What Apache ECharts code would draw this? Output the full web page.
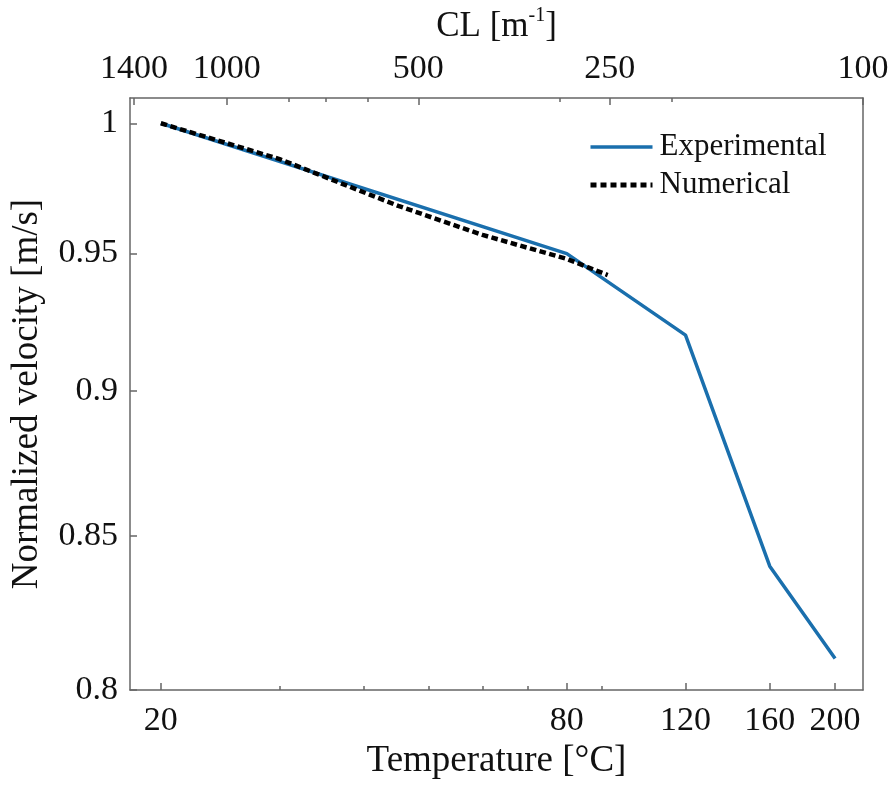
<!DOCTYPE html>
<html>
<head>
<meta charset="utf-8">
<script src="https://cdn.jsdelivr.net/npm/echarts@6/dist/echarts.min.js"></script>
<style>html,body{margin:0;padding:0;background:#fff;}#c{width:894px;height:785px;}</style>
</head>
<body>
<div id="c"></div>
<script>
// ---- data ----
const temperatureTicks = [20, 80, 120, 160, 200];
const temperatureMinorTicks = [30, 40, 50, 60, 70, 90];
const clTicks = [1400, 1000, 500, 250, 100];
const clMinorTicks = [800, 700, 600, 300, 200];
const velocityTicks = [0.8, 0.85, 0.9, 0.95, 1];

const expTemperature = [20, 80, 120, 160, 200];
const expVelocity = [1.0, 0.95, 0.92, 0.84, 0.81];

const numTemperature = [20, 30, 45, 60, 80, 92];
const numVelocity = [1.0, 0.986, 0.968, 0.957, 0.948, 0.942];

const seriesNames = ['Experimental', 'Numerical'];

// ---- chart ----
const FONT = 'Liberation Serif';
const AXIS_COLOR = '#666';
const TEXT_COLOR = '#111';
const EXP_COLOR = '#1a6fad';
const T_RANGE = [18, 220];
const CL_RANGE = [100, 1420];
const V_RANGE = [0.8, 1.01];

const chart = echarts.init(document.getElementById('c'), null, {renderer: 'canvas'});

function fmtNum(v) { return String(+(+v).toFixed(3)); }

const option = {
  animation: false,
  backgroundColor: '#fff',
  textStyle: {fontFamily: FONT, color: TEXT_COLOR},
  grid: {left: 130, right: 31, top: 98, bottom: 92, containLabel: false},
  legend: {
    orient: 'vertical',
    left: 588,
    top: 131,
    padding: 0,
    itemWidth: 62,
    itemHeight: 14,
    itemGap: 6,
    itemStyle: {opacity: 0},
    data: [
      {name: seriesNames[0], lineStyle: {color: EXP_COLOR, width: 3.5, type: 'solid'}},
      {name: seriesNames[1], lineStyle: {color: '#000', width: 5, type: [6, 4]}}
    ],
    textStyle: {fontFamily: FONT, fontSize: 31, color: TEXT_COLOR, lineHeight: 32, padding: [0, 0, 0, 2]}
  },
  xAxis: [
    {
      type: 'log', position: 'bottom', min: T_RANGE[0], max: T_RANGE[1], logBase: 10,
      name: 'Temperature [°C]', nameLocation: 'middle', nameGap: 50,
      nameTextStyle: {fontFamily: FONT, fontSize: 37, color: TEXT_COLOR},
      axisLine: {show: true, onZero: false, lineStyle: {color: AXIS_COLOR, width: 1.5}},
      axisTick: {show: true, inside: true, length: 7, customValues: temperatureTicks, lineStyle: {color: AXIS_COLOR, width: 1.5}},
      axisLabel: {show: true, margin: 14, customValues: temperatureTicks, fontFamily: FONT, fontSize: 34, color: TEXT_COLOR, formatter: v => fmtNum(v)},
      splitLine: {show: false}, minorTick: {show: false}, minorSplitLine: {show: false}
    },
    {
      type: 'log', position: 'top', inverse: true, min: CL_RANGE[0], max: CL_RANGE[1], logBase: 10,
      name: '{a|CL [m}{s|-1}{a|]}', nameLocation: 'middle', nameGap: 54,
      nameTextStyle: {
        fontFamily: FONT, fontSize: 34, color: TEXT_COLOR,
        rich: {
          a: {fontFamily: FONT, fontSize: 35, color: TEXT_COLOR, lineHeight: 38, verticalAlign: 'bottom'},
          s: {fontFamily: FONT, fontSize: 20, color: TEXT_COLOR, lineHeight: 26, verticalAlign: 'top'}
        }
      },
      axisLine: {show: true, onZero: false, lineStyle: {color: AXIS_COLOR, width: 1.5}},
      axisTick: {show: true, inside: true, length: 7, customValues: clTicks, lineStyle: {color: AXIS_COLOR, width: 1.5}},
      axisLabel: {show: true, margin: 12, customValues: clTicks, fontFamily: FONT, fontSize: 34, color: TEXT_COLOR, formatter: v => fmtNum(v)},
      splitLine: {show: false}, minorTick: {show: false}, minorSplitLine: {show: false}
    },
    {
      type: 'log', position: 'bottom', min: T_RANGE[0], max: T_RANGE[1], logBase: 10,
      axisLine: {show: false, onZero: false},
      axisTick: {show: true, inside: true, length: 4, customValues: temperatureMinorTicks, lineStyle: {color: AXIS_COLOR, width: 1.5}},
      axisLabel: {show: false},
      splitLine: {show: false}
    },
    {
      type: 'log', position: 'top', inverse: true, min: CL_RANGE[0], max: CL_RANGE[1], logBase: 10,
      axisLine: {show: false, onZero: false},
      axisTick: {show: true, inside: true, length: 4, customValues: clMinorTicks, lineStyle: {color: AXIS_COLOR, width: 1.5}},
      axisLabel: {show: false},
      splitLine: {show: false}
    }
  ],
  yAxis: [
    {
      type: 'log', position: 'left', min: V_RANGE[0], max: V_RANGE[1], logBase: 10,
      name: 'Normalized velocity [m/s]', nameLocation: 'middle', nameGap: 84, nameRotate: 90,
      nameTextStyle: {fontFamily: FONT, fontSize: 37, color: TEXT_COLOR},
      axisLine: {show: true, onZero: false, lineStyle: {color: AXIS_COLOR, width: 1.5}},
      axisTick: {show: true, inside: true, length: 7, customValues: velocityTicks, lineStyle: {color: AXIS_COLOR, width: 1.5}},
      axisLabel: {show: true, margin: 12, customValues: velocityTicks, fontFamily: FONT, fontSize: 34, color: TEXT_COLOR, formatter: v => fmtNum(v)},
      splitLine: {show: false}, minorTick: {show: false}, minorSplitLine: {show: false}
    },
    {
      type: 'value', position: 'right', min: 0, max: 1,
      axisLine: {show: true, onZero: false, lineStyle: {color: AXIS_COLOR, width: 1.5}},
      axisTick: {show: false}, axisLabel: {show: false}, splitLine: {show: false}
    }
  ],
  series: [
    {
      name: seriesNames[0], type: 'line', xAxisIndex: 0, yAxisIndex: 0,
      symbol: 'none', showSymbol: false,
      lineStyle: {color: EXP_COLOR, width: 3.5},
      itemStyle: {color: EXP_COLOR},
      data: expTemperature.map((t, i) => [t, expVelocity[i]]),
      z: 2
    },
    {
      name: seriesNames[1], type: 'line', xAxisIndex: 0, yAxisIndex: 0,
      symbol: 'none', showSymbol: false,
      lineStyle: {color: '#000', width: 4.5, type: [6.5, 3.5]},
      itemStyle: {color: '#000'},
      data: numTemperature.map((t, i) => [t, numVelocity[i]]),
      z: 3
    }
  ]
};
chart.setOption(option);
</script>
</body>
</html>
